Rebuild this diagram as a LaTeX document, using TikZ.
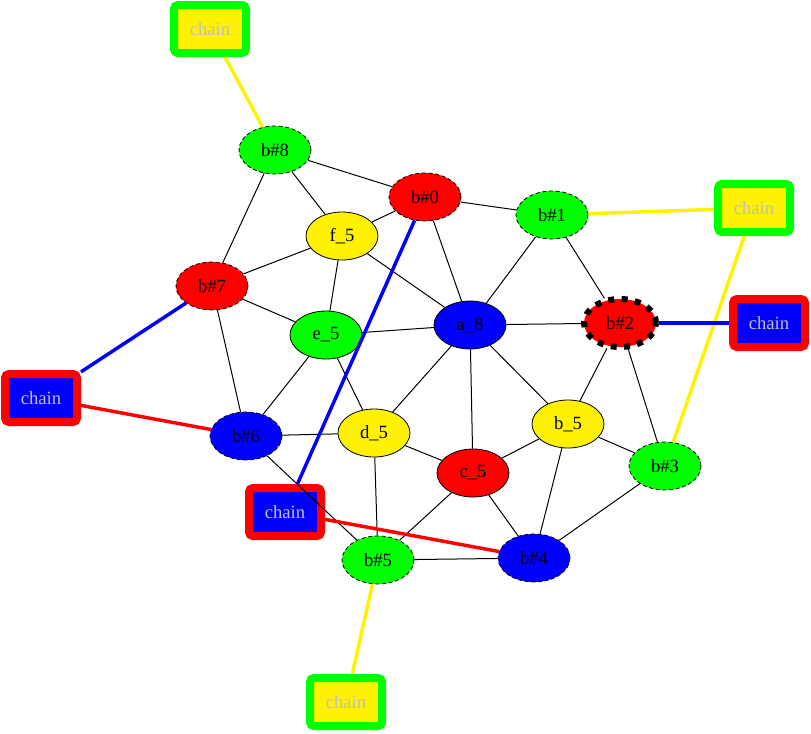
\documentclass[tikz,border=0pt]{standalone}
\usepackage{fontspec}
\setmainfont{Liberation Serif}
\usetikzlibrary{shapes.geometric}

\begin{document}
\begin{tikzpicture}[
  x=0.75pt, y=-0.75pt, font=\fontsize{14}{16}\selectfont,
  v/.style={ellipse,draw,line width=0.6pt,minimum width=54pt,minimum height=36pt,inner sep=0pt},
  bv/.style={v,dash pattern=on 3pt off 2pt},
  ch/.style={draw,rounded corners=3pt,line width=6pt,minimum width=54pt,minimum height=36pt,inner sep=0pt,text=gray!50},
  e/.style={line width=0.75pt},
  w/.style={line width=2.6pt}]
\useasboundingbox (0,0) rectangle (811,733);
% inner nodes
\node[v,fill=blue] (a) at (470,325) {a\_8};
\node[v,fill=yellow] (b) at (568,424) {b\_5};
\node[v,fill=red] (c) at (473,473) {c\_5};
\node[v,fill=yellow] (d) at (374,433) {d\_5};
\node[v,fill=green] (e) at (326,335) {e\_5};
\node[v,fill=yellow] (f) at (342,236) {f\_5};
% outer ring
\node[bv,fill=red] (b0) at (425,197) {b\#0};
\node[bv,fill=green] (b1) at (552,215) {b\#1};
\node[v,fill=red,line width=4.5pt,dash pattern=on 4.5pt off 5.5pt] (b2) at (620,323) {b\#2};
\node[bv,fill=green] (b3) at (665,466) {b\#3};
\node[bv,fill=blue] (b4) at (534,558) {b\#4};
\node[bv,fill=green] (b5) at (378,560) {b\#5};
\node[bv,fill=blue] (b6) at (246,436) {b\#6};
\node[bv,fill=red] (b7) at (212,286) {b\#7};
\node[bv,fill=green] (b8) at (275,150) {b\#8};
% chains
\node[ch,draw=green,fill=yellow] (cht) at (210,29) {chain};
\node[ch,draw=green,fill=yellow] (chr) at (754,208) {chain};
\node[ch,draw=red,fill=blue] (chb2) at (769,323) {chain};
\node[ch,draw=red,fill=blue] (chl) at (41,398) {chain};
\node[ch,draw=red,fill=blue] (chm) at (285,512) {chain};
\node[ch,draw=green,fill=yellow] (chd) at (346,702) {chain};
% graph edges
\draw[e](b8)--(b0);\draw[e](b8)--(f);\draw[e](b8)--(b7);
\draw[e](b0)--(f);\draw[e](b0)--(a);\draw[e](b0)--(b1);
\draw[e](b1)--(a);\draw[e](b1)--(b2);
\draw[e](f)--(b7);\draw[e](f)--(e);\draw[e](f)--(a);
\draw[e](b7)--(e);\draw[e](b7)--(b6);
\draw[e](e)--(a);\draw[e](e)--(b6);\draw[e](e)--(d);
\draw[e](a)--(b2);\draw[e](a)--(d);\draw[e](a)--(c);\draw[e](a)--(b);
\draw[e](b2)--(b);\draw[e](b2)--(b3);
\draw[e](b6)--(d);\draw[e](b6)--(b5);
\draw[e](d)--(c);\draw[e](d)--(b5);
\draw[e](c)--(b);\draw[e](c)--(b5);\draw[e](c)--(b4);
\draw[e](b)--(b3);\draw[e](b)--(b4);
\draw[e](b3)--(b4);\draw[e](b5)--(b4);
% chain links
\draw[w,yellow](cht)--(b8);\draw[w,yellow](chr)--(b1);\draw[w,yellow](chr)--(b3);\draw[w,yellow](chd)--(b5);
\draw[w,blue](chl)--(b7);\draw[w,blue](chb2)--(b2);\draw[w,blue](chm)--(b0);
\draw[w,red](chl)--(b6);\draw[w,red](chm)--(b4);
\end{tikzpicture}
\end{document}
